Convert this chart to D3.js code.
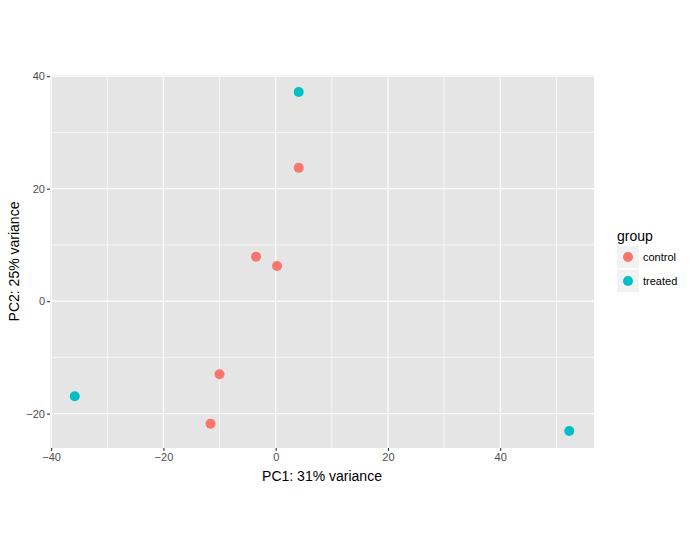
<!DOCTYPE html>
<html>
<head>
<meta charset="utf-8">
<script src="https://cdn.jsdelivr.net/npm/d3@7"></script>
<style>
  body { margin: 0; background: #fff; }
  text { font-family: "Liberation Sans", Arial, sans-serif; }
</style>
</head>
<body>
<div id="chart"></div>
<script>
// PCA scores
var groups = ["control", "treated"];
var groupColors = ["#F8766D", "#00BFC4"];
var pc1 = [4.1, -3.5, 0.25, -10.0, -11.6, 4.1, -35.8, 52.3];
var pc2 = [23.7, 7.9, 6.25, -13.0, -21.8, 37.2, -16.9, -23.1];
var sampleGroup = ["control", "control", "control", "control", "control", "treated", "treated", "treated"];
var xTicks = [-40, -20, 0, 20, 40];
var yTicks = [-20, 0, 20, 40];
var xMinor = [-30, -10, 10, 30, 50];
var yMinor = [-10, 10, 30];

var W = 694, H = 555;
var margin = { left: 50, right: 100, top: 75, bottom: 107 };
var pw = W - margin.left - margin.right;
var ph = H - margin.top - margin.bottom;

var svg = d3.select( "#chart" ).append( "svg" )
    .attr( "width", W )
    .attr( "height", H );

// ggplot-style 5% expansion
function expand( vals ) {
    var e = d3.extent( vals ), pad = ( e[ 1 ] - e[ 0 ] ) * 0.05;
    return [ e[ 0 ] - pad, e[ 1 ] + pad ];
}

var x = d3.scaleLinear().domain( expand( pc1 ) ).range( [ 0, pw ] );
var y = d3.scaleLinear().domain( expand( pc2 ) ).range( [ ph, 0 ] );
var color = d3.scaleOrdinal().domain( groups ).range( groupColors );

var g = svg.append( "g" )
    .attr( "transform", "translate(" + margin.left + "," + margin.top + ")" );

g.append( "rect" )
    .attr( "width", pw )
    .attr( "height", ph )
    .attr( "fill", "#E5E5E5" );

// minor then major grid
g.selectAll( "line.xminor" ).data( xMinor ).enter().append( "line" )
    .attr( "x1", x ).attr( "x2", x ).attr( "y1", 0 ).attr( "y2", ph )
    .attr( "stroke", "#fff" ).attr( "stroke-width", 0.7 );
g.selectAll( "line.yminor" ).data( yMinor ).enter().append( "line" )
    .attr( "y1", y ).attr( "y2", y ).attr( "x1", 0 ).attr( "x2", pw )
    .attr( "stroke", "#fff" ).attr( "stroke-width", 0.7 );
g.selectAll( "line.xmajor" ).data( xTicks ).enter().append( "line" )
    .attr( "x1", x ).attr( "x2", x ).attr( "y1", 0 ).attr( "y2", ph )
    .attr( "stroke", "#fff" ).attr( "stroke-width", 1.2 );
g.selectAll( "line.ymajor" ).data( yTicks ).enter().append( "line" )
    .attr( "y1", y ).attr( "y2", y ).attr( "x1", 0 ).attr( "x2", pw )
    .attr( "stroke", "#fff" ).attr( "stroke-width", 1.2 );

// axes
var xAxis = g.append( "g" )
    .attr( "transform", "translate(0," + ph + ")" )
    .call( d3.axisBottom( x ).tickValues( xTicks ).tickSize( 3 ).tickPadding( 2 ) );
var yAxis = g.append( "g" )
    .call( d3.axisLeft( y ).tickValues( yTicks ).tickSize( 3 ).tickPadding( 2 ) );
[ xAxis, yAxis ].forEach( function ( a ) {
    a.select( ".domain" ).remove();
    a.selectAll( ".tick line" ).attr( "stroke", "#333" ).attr( "stroke-width", 1.1 );
    a.selectAll( ".tick text" )
        .attr( "fill", "#4D4D4D" )
        .style( "font-size", "11px" )
        .style( "font-family", "'Liberation Sans', Arial, sans-serif" );
});

// points
g.selectAll( "circle.pt" ).data( d3.range( pc1.length ) ).enter().append( "circle" )
    .attr( "class", "pt" )
    .attr( "cx", function ( i ) { return x( pc1[ i ] ); } )
    .attr( "cy", function ( i ) { return y( pc2[ i ] ); } )
    .attr( "r", 5 )
    .attr( "fill", function ( i ) { return color( sampleGroup[ i ] ); } );

// axis titles
svg.append( "text" )
    .attr( "x", margin.left + pw / 2 )
    .attr( "y", 481 )
    .attr( "text-anchor", "middle" )
    .style( "font-size", "14px" )
    .text( "PC1: 31% variance" );
svg.append( "text" )
    .attr( "transform", "translate(19," + ( margin.top + ph / 2 ) + ") rotate(-90)" )
    .attr( "text-anchor", "middle" )
    .style( "font-size", "14px" )
    .text( "PC2: 25% variance" );

// legend
var leg = svg.append( "g" ).attr( "transform", "translate(617,0)" );
leg.append( "text" )
    .attr( "x", 0 )
    .attr( "y", 241 )
    .style( "font-size", "14px" )
    .text( "group" );
var keys = leg.selectAll( "g.key" ).data( groups ).enter().append( "g" )
    .attr( "transform", function ( d, i ) { return "translate(0," + ( 246 + i * 24 ) + ")"; } );
keys.append( "rect" )
    .attr( "width", 22 ).attr( "height", 22 )
    .attr( "fill", "#F2F2F2" );
keys.append( "circle" )
    .attr( "cx", 11 ).attr( "cy", 11 ).attr( "r", 5 )
    .attr( "fill", function ( d ) { return color( d ); } );
keys.append( "text" )
    .attr( "x", 26 ).attr( "y", 15 )
    .style( "font-size", "11px" )
    .text( function ( d ) { return d; } );
</script>
</body>
</html>
